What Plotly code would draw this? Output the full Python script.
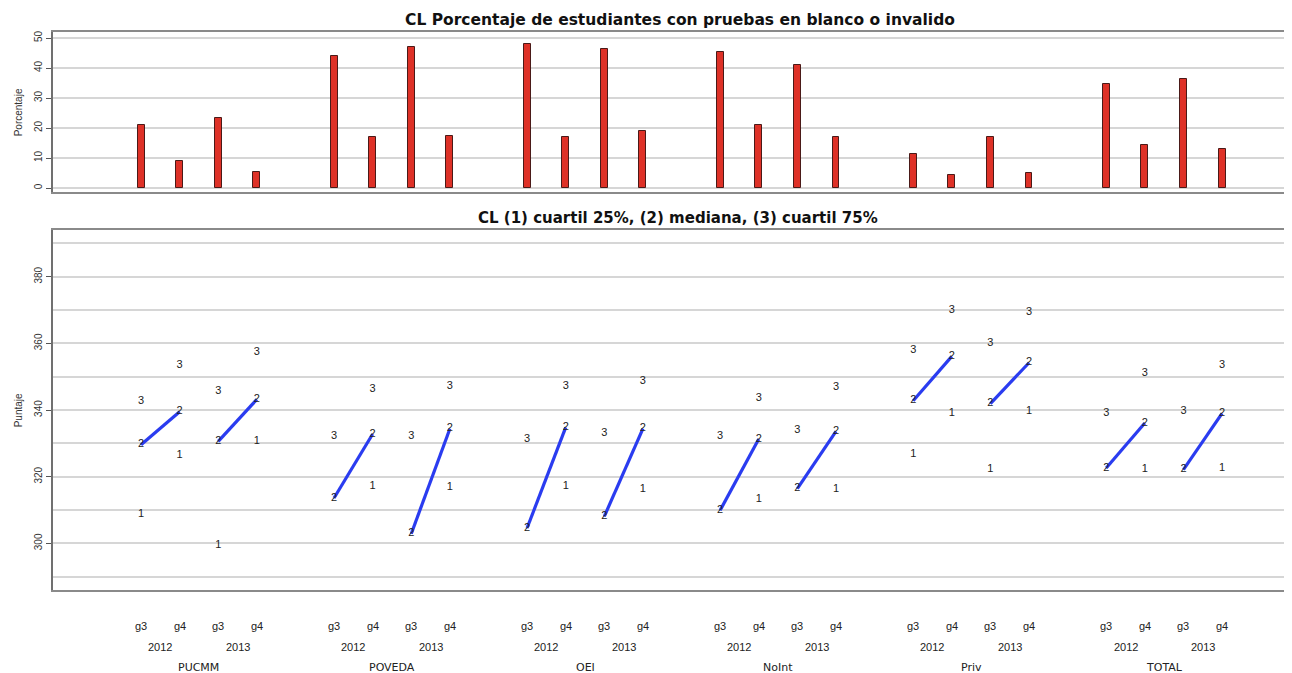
import plotly.graph_objects as go
from plotly.subplots import make_subplots

# ==========================================
# DATA
# ==========================================

schools = ["PUCMM", "POVEDA", "OEI", "NoInt", "Priv", "TOTAL"]
years = ["2012", "2013"]
grades = ["g3", "g4"]

# porcentaje en blanco / invalido (orden: escuela, año, grado)
pct_blank = [20.9, 8.9, 23.3, 5.5,
             43.9, 17.0, 47.1, 17.4,
             48.1, 17.1, 46.3, 18.9,
             45.5, 21.0, 40.9, 17.1,
             11.5, 4.5, 17.0, 5.1,
             34.7, 14.2, 36.4, 13.1]

q25 = [308.6, 326.3, 299.3, 330.6,
       None, 317.1, None, 316.9,
       None, 317.1, None, 316.3,
       None, 313.3, None, 316.3,
       326.6, 338.9, 322.1, 339.6,
       None, 322.1, None, 322.6]

median = [329.6, 339.5, 330.6, 343.2,
          313.6, 332.8, 302.9, 334.4,
          304.6, 334.8, 308.1, 334.4,
          309.9, 331.3, 316.4, 333.6,
          342.8, 356.1, 341.9, 354.2,
          322.6, 336.1, 322.1, 339.0]

q75 = [342.6, 353.4, 345.5, 357.3,
       332.0, 346.3, 332.0, 347.1,
       331.2, 347.1, 333.1, 348.5,
       332.0, 343.6, 333.8, 346.8,
       357.8, 369.8, 360.0, 369.4,
       339.0, 351.0, 339.5, 353.4]

# ==========================================
# POSITIONS
# ==========================================

pos = []
for i in range(len(schools)):
    for j in range(len(years)):
        for k in range(len(grades)):
            pos.append(i * 5 + j * 2 + k)

FONT = "Liberation Sans, Arial, sans-serif"
WIDE = "DejaVu Sans, sans-serif"
GRID = "#d6d6d6"
AXIS = "#8a8a8a"
XR = [-2.28, 29.76]

fig = make_subplots(rows=2, cols=1, vertical_spacing=0.0)

# ==========================================
# TOP: BAR CHART
# ==========================================

fig.add_trace(go.Bar(
    x=pos, y=pct_blank, width=0.18,
    marker=dict(color="#de3127", line=dict(color="#4a1a18", width=1)),
    showlegend=False
), row=1, col=1)

# ==========================================
# BOTTOM: QUARTILES
# ==========================================

lx, ly = [], []
for g in range(0, len(pos), 2):
    lx += [pos[g], pos[g + 1], None]
    ly += [median[g], median[g + 1], None]

fig.add_trace(go.Scatter(
    x=lx, y=ly, mode="lines",
    line=dict(color="#2a3cf0", width=3.2),
    showlegend=False
), row=2, col=1)

for vals, lab in [(q25, "1"), (median, "2"), (q75, "3")]:
    xs = [p for p, v in zip(pos, vals) if v is not None]
    ys = [v for v in vals if v is not None]
    fig.add_trace(go.Scatter(
        x=xs, y=ys, mode="text", text=[lab] * len(xs),
        textposition="middle center",
        textfont=dict(family=FONT, size=11, color="#222222"),
        showlegend=False
    ), row=2, col=1)

# ==========================================
# AXES
# ==========================================

xax = dict(range=XR, showticklabels=False, showgrid=False, zeroline=False,
           showline=True, mirror=True, linecolor=AXIS, linewidth=2, ticks="")
fig.update_xaxes(**xax, row=1, col=1)
fig.update_xaxes(**xax, row=2, col=1)

yax = dict(showgrid=True, gridcolor=GRID, gridwidth=1.5, zeroline=False,
           showline=True, linecolor="#707070", linewidth=2,
           ticks="outside", ticklen=5, tickcolor="#555555", tickangle=-90,
           tickfont=dict(family=FONT, size=10, color="#333333"))

fig.update_yaxes(**yax, range=[-1.47, 52.0], dtick=10, tick0=0,
                 domain=[0.7125, 1.0], row=1, col=1)
fig.update_yaxes(**yax, range=[286.0, 393.9], dtick=20, tick0=300,
                 minor=dict(dtick=10, showgrid=True, gridcolor=GRID, gridwidth=1.5),
                 domain=[0.0, 0.6444], row=2, col=1)
fig.update_xaxes(domain=[0, 1])

# ==========================================
# LABELS
# ==========================================

ann = []
ann.append(dict(text="<b>CL Porcentaje de estudiantes con pruebas en blanco o invalido</b>",
                xref="paper", yref="paper", x=0.5, y=1.0, yshift=12, xshift=8,
                xanchor="center", yanchor="middle", showarrow=False,
                font=dict(family=WIDE, size=15.5, color="#111111")))
ann.append(dict(text="<b>CL (1) cuartil 25%, (2) mediana, (3) cuartil 75%</b>",
                xref="paper", yref="paper", x=0.5, y=0.6444, yshift=12, xshift=6,
                xanchor="center", yanchor="middle", showarrow=False,
                font=dict(family=WIDE, size=15, color="#111111")))
ann.append(dict(text="Porcentaje", xref="paper", yref="paper", x=0, xshift=-35,
                y=0.856, textangle=-90, xanchor="center", yanchor="middle",
                showarrow=False, font=dict(family=FONT, size=10, color="#333333")))
ann.append(dict(text="Puntaje", xref="paper", yref="paper", x=0, xshift=-35,
                y=0.322, textangle=-90, xanchor="center", yanchor="middle",
                showarrow=False, font=dict(family=FONT, size=10, color="#333333")))

lab_font = dict(family=FONT, size=11, color="#222222")
for idx, p in enumerate(pos):
    ann.append(dict(text=grades[idx % 2], xref="x2", yref="paper", x=p, y=0,
                    yshift=-36, yanchor="middle", showarrow=False, font=lab_font))
for i in range(len(schools)):
    for j in range(len(years)):
        ann.append(dict(text=years[j], xref="x2", yref="paper",
                        x=i * 5 + j * 2 + 0.5, y=0, yshift=-57, yanchor="middle",
                        showarrow=False, font=lab_font))
    ann.append(dict(text=schools[i], xref="x2", yref="paper",
                    x=i * 5 + 1.5, y=0, yshift=-77, yanchor="middle",
                    showarrow=False, font=dict(family=WIDE, size=11, color="#222222")))

# page body adds 8px offset, margins compensate
fig.update_layout(
    width=1292, height=673,
    margin=dict(l=45, r=10, t=24, b=91),
    paper_bgcolor="white", plot_bgcolor="white",
    annotations=ann,
    bargap=0
)

fig.write_html("out.html")
